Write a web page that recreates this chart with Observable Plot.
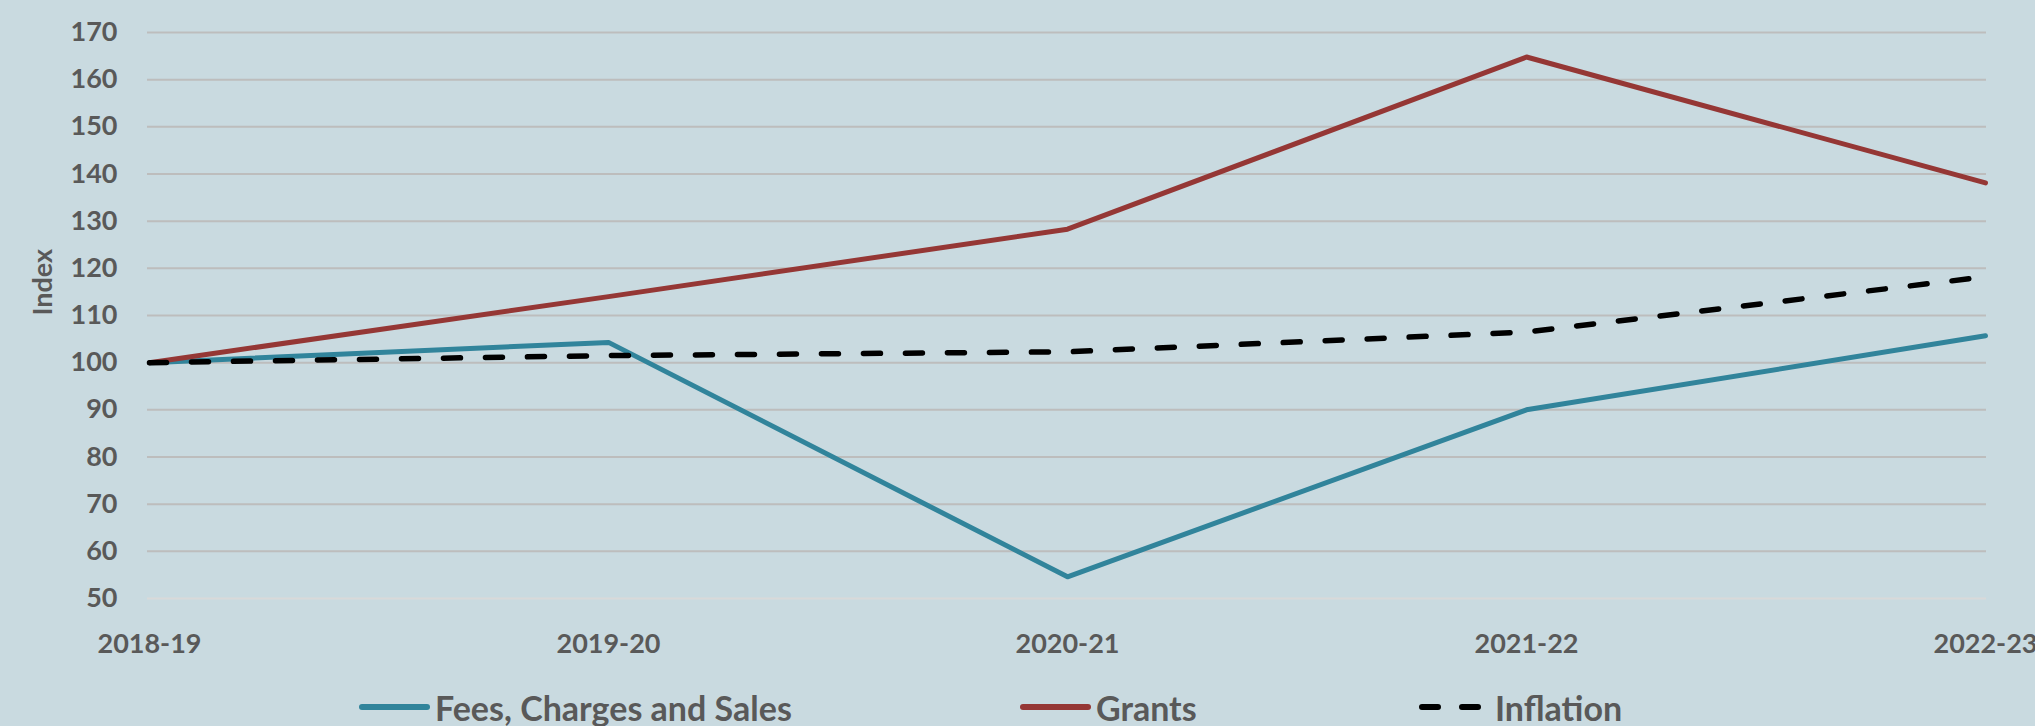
<!DOCTYPE html>
<html>
<head>
<meta charset="utf-8">
<script src="https://cdn.jsdelivr.net/npm/d3@7"></script>
<script src="https://cdn.jsdelivr.net/npm/@observablehq/plot@0.6"></script>
<style>
  html, body { margin: 0; padding: 0; background: #C9DAE0; width: 2035px; height: 726px; overflow: hidden; }
  #chart { position: absolute; left: 0; top: 0; }
  #legend { position: absolute; left: 0; top: 679px; width: 2035px; height: 56px; font-family: Lato, sans-serif; font-weight: 700; font-size: 34px; color: #595959; }
  .item { position: absolute; top: 0; height: 56px; display: flex; align-items: center; white-space: nowrap; }
  .item svg { margin-right: 5px; }
</style>
</head>
<body>
<div id="chart"></div>
<div id="legend"></div>
<script>
const periods = ["2018-19", "2019-20", "2020-21", "2021-22", "2022-23"];
const feesValues = [100, 104.3, 54.6, 90, 105.7];
const grantsValues = [100, 114, 128.3, 164.8, 138.1];
const inflationValues = [100, 101.5, 102.3, 106.5, 118.2];
const yTicks = [50, 60, 70, 80, 90, 100, 110, 120, 130, 140, 150, 160, 170];
const seriesNames = ["Fees, Charges and Sales", "Grants", "Inflation"];
const seriesColors = ["#31849B", "#953735", "#000000"];
const yLabel = "Index";

const rows = (name, vals) => periods.map((p, i) => ({period: p, value: vals[i], series: name}));
const feesRows = rows(seriesNames[0], feesValues);
const grantsRows = rows(seriesNames[1], grantsValues);
const inflationRows = rows(seriesNames[2], inflationValues);

const textColor = "#595959";
const plot = Plot.plot({
  width: 2035,
  height: 670,
  marginTop: 32,
  marginBottom: 72,
  marginLeft: 147,
  marginRight: 49,
  style: {background: "transparent", fontFamily: "Lato, sans-serif", fontWeight: 700, fontSize: "27px", color: textColor, overflow: "visible"},
  x: {type: "point", domain: periods, padding: 0},
  y: {domain: [50, 170]},
  marks: [
    Plot.ruleY(yTicks.filter(t => t > 50), {stroke: "#BDBDBD", strokeWidth: 2}),
    Plot.ruleY([50], {stroke: "#D9D9D9", strokeWidth: 2}),
    Plot.axisY({ticks: yTicks, tickSize: 0, tickPadding: 30, label: null, fontSize: 27, fontWeight: 700, fill: textColor}),
    Plot.axisX({tickSize: 0, tickPadding: 35, label: null, fontSize: 27, fontWeight: 700, fill: textColor}),
    Plot.text([yLabel], {frameAnchor: "left", dx: -104, rotate: -90, fontSize: 27, fontWeight: 700, fill: textColor}),
    Plot.line(feesRows, {x: "period", y: "value", stroke: seriesColors[0], strokeWidth: 5}),
    Plot.line(grantsRows, {x: "period", y: "value", stroke: seriesColors[1], strokeWidth: 5}),
    Plot.line(inflationRows, {x: "period", y: "value", stroke: seriesColors[2], strokeWidth: 5.5, strokeDasharray: "17,25", strokeLinecap: "round"})
  ]
});
document.getElementById("chart").appendChild(plot);

const legendX = [358, 1019, 1418];
const legend = document.getElementById("legend");
seriesNames.forEach((name, i) => {
  const item = document.createElement("div");
  item.className = "item";
  item.style.left = legendX[i] + "px";
  const dashed = i === 2;
  item.innerHTML = `<svg width="72" height="10"><line x1="4" y1="5" x2="${dashed ? 64 : 69}" y2="5" stroke="${seriesColors[i]}" stroke-width="6" stroke-linecap="round" ${dashed ? 'stroke-dasharray="16,24"' : ''}/></svg><span>${name}</span>`;
  legend.appendChild(item);
});
</script>
</body>
</html>
